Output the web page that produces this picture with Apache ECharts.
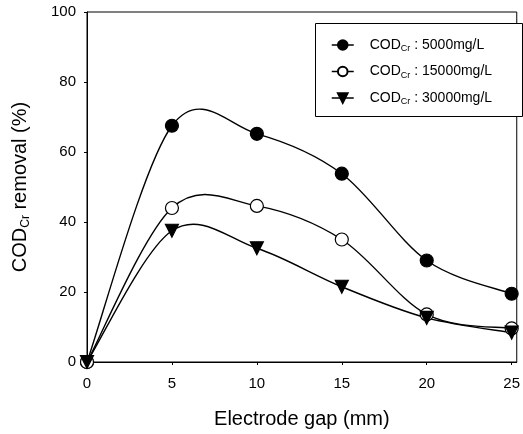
<!DOCTYPE html>
<html>
<head>
<meta charset="utf-8">
<script src="https://cdn.jsdelivr.net/npm/echarts@6/dist/echarts.min.js"></script>
<style>
html, body { margin: 0; padding: 0; background: #fff; }
#chart { width: 523px; height: 434px; }
</style>
</head>
<body>
<div id="chart"></div>
<script>
// electrode gap (mm)
const gap = [0, 5, 10, 15, 20, 25];
// COD removal (%)
const cod5000 = [0, 67.5, 65.2, 53.8, 29.0, 19.5];
const cod15000 = [0, 44.0, 44.6, 35.0, 13.6, 9.6];
const cod30000 = [0, 37.5, 32.5, 21.5, 12.6, 8.4];
const seriesNames = ['5000mg/L', '15000mg/L', '30000mg/L'];

const font = 'Liberation Sans, Arial, sans-serif';

function pairs(vals) {
    return gap.map((g, i) => [g, vals[i]]);
}

// smooth curve through the points (catmull-rom -> bezier), drawn once per series
function curveItem(vals) {
    return function (params, api) {
        if (params.dataIndex !== 0) return;
        const pts = gap.map((g, i) => api.coord([g, vals[i]]));
        const n = pts.length;
        const children = [];
        for (let i = 0; i < n - 1; i++) {
            const p0 = pts[Math.max(i - 1, 0)];
            const p1 = pts[i];
            const p2 = pts[i + 1];
            const p3 = pts[Math.min(i + 2, n - 1)];
            children.push({
                type: 'bezierCurve',
                shape: {
                    x1: p1[0], y1: p1[1], x2: p2[0], y2: p2[1],
                    cpx1: p1[0] + (p2[0] - p0[0]) / 6, cpy1: p1[1] + (p2[1] - p0[1]) / 6,
                    cpx2: p2[0] - (p3[0] - p1[0]) / 6, cpy2: p2[1] - (p3[1] - p1[1]) / 6
                },
                style: { stroke: '#000', lineWidth: 1.4, fill: null }
            });
        }
        return { type: 'group', children: children };
    };
}

function curve(vals) {
    return {
        type: 'custom', data: pairs(vals), silent: true, z: 1,
        encode: { x: 0, y: 1 },
        renderItem: curveItem(vals)
    };
}

function marks(name, vals, symbol, fill, rotate) {
    return {
        name: name, type: 'line', data: pairs(vals),
        symbol: symbol, symbolSize: 13, symbolRotate: rotate,
        itemStyle: { color: fill, borderColor: '#000', borderWidth: 1.2 },
        lineStyle: { color: '#000', width: 1.4, opacity: 0 },
        z: 3
    };
}

const chart = echarts.init(document.getElementById('chart'));

chart.setOption({
    animation: false,
    grid: { left: 87, right: 2, top: 12, bottom: 72, show: true, borderColor: '#000', borderWidth: 1 },
    graphic: [{
        type: 'rect', left: 315, top: 23, z: 0,
        shape: { width: 207, height: 93 },
        style: { fill: '#fff', stroke: '#000', lineWidth: 1 }
    }],
    legend: {
        orient: 'vertical',
        left: 331,
        top: 37,
        padding: 0,
        itemGap: 10,
        itemWidth: 22,
        itemHeight: 12,
        z: 5,
        data: seriesNames,
        lineStyle: { opacity: 1, width: 1.5, color: '#000' },
        formatter: name => 'COD{sub|Cr} : ' + name,
        textStyle: {
            color: '#000', fontFamily: font, fontSize: 14, lineHeight: 16,
            padding: [0, 0, 0, 11],
            rich: { sub: { fontSize: 9, fontFamily: font, color: '#000', padding: [8, 0, 0, 0] } }
        }
    },
    xAxis: {
        type: 'value', min: 0, max: 25.3, interval: 5,
        name: 'Electrode gap (mm)',
        nameLocation: 'middle', nameGap: 47,
        nameTextStyle: { color: '#000', fontFamily: font, fontSize: 20 },
        axisLine: { lineStyle: { color: '#000', width: 1 } },
        axisTick: { inside: false, length: 3, lineStyle: { color: '#000' } },
        axisLabel: { color: '#000', fontFamily: font, fontSize: 15, margin: 14, showMaxLabel: false },
        splitLine: { show: false }
    },
    yAxis: {
        type: 'value', min: 0, max: 100, interval: 20,
        name: 'COD{sub|Cr} removal (%)',
        nameLocation: 'middle', nameGap: 55, nameRotate: 90,
        nameTextStyle: {
            color: '#000', fontFamily: font, fontSize: 20,
            rich: { sub: { fontSize: 12, fontFamily: font, color: '#000', padding: [11, 0, 0, 0] } }
        },
        axisLine: { lineStyle: { color: '#000', width: 1 } },
        axisTick: { inside: false, length: 3, lineStyle: { color: '#000' } },
        axisLabel: { color: '#000', fontFamily: font, fontSize: 15, margin: 11 },
        splitLine: { show: false }
    },
    series: [
        curve(cod5000),
        curve(cod15000),
        curve(cod30000),
        marks(seriesNames[0], cod5000, 'circle', '#000', 0),
        marks(seriesNames[1], cod15000, 'circle', '#fff', 0),
        marks(seriesNames[2], cod30000, 'triangle', '#000', 180)
    ]
});
</script>
</body>
</html>
